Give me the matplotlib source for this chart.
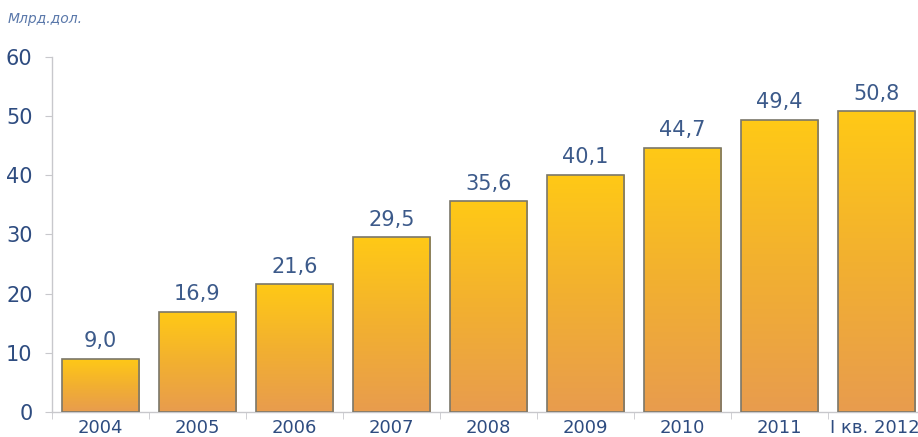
import matplotlib
matplotlib.use("Agg")
import matplotlib.pyplot as plt
import numpy as np
from matplotlib.colors import LinearSegmentedColormap

categories = ["2004", "2005", "2006", "2007", "2008", "2009", "2010", "2011", "I кв. 2012"]
values = [9.0, 16.9, 21.6, 29.5, 35.6, 40.1, 44.7, 49.4, 50.8]
value_labels = ["9,0", "16,9", "21,6", "29,5", "35,6", "40,1", "44,7", "49,4", "50,8"]
yticks = [0, 10, 20, 30, 40, 50, 60]
unit_label = "Млрд.дол."

plt.rcParams['font.family'] = ['DejaVu Sans']

fig = plt.figure(figsize=(9.18, 4.37), dpi=100)
ax = fig.add_axes([52/918, 25/437, 873/918, 355/437])

cmap = LinearSegmentedColormap.from_list("g", ["#E89C4E", "#F2B030", "#FFC916"])
x = np.arange(len(categories))
width = 0.8
grad = np.linspace(0, 1, 256).reshape(-1, 1)
for xi, v in zip(x, values):
    bars = ax.bar(xi, v, width=width, color="none", edgecolor="#7A776A", linewidth=1.2, zorder=3)
    im = ax.imshow(grad, extent=(xi - width/2, xi + width/2, 0, v), origin="lower",
                   cmap=cmap, aspect="auto", zorder=2)
    im.set_clip_path(bars.patches[0])

for xi, v, lab in zip(x, values, value_labels):
    ax.text(xi, v + 1.3, lab, ha="center", va="bottom", fontsize=15, color="#3C5A8A")

ax.set_xlim(-0.5, len(categories) - 0.5)
ax.set_ylim(0, 60)
ax.set_yticks(yticks)
ax.set_yticklabels([str(t) for t in yticks])
ax.set_xticks(x[:-1])
ax.set_xticklabels(categories[:-1])
ax.set_xticks(np.arange(len(categories) + 1) - 0.5, minor=True)

# last (long) category label, kept inside the figure
ax.annotate(categories[-1], xy=(x[-1], 0), xycoords=("data", "axes fraction"),
            xytext=(31, -5), textcoords="offset points", ha="right", va="top",
            fontsize=13, color="#2E4C80")

for s in ["top", "right"]:
    ax.spines[s].set_visible(False)
for s in ["left", "bottom"]:
    ax.spines[s].set_color("#C8C8CC")
    ax.spines[s].set_linewidth(1.0)

ax.tick_params(axis="y", colors="#C8C8CC", labelcolor="#2E4C80", labelsize=15, length=5, pad=9)
ax.tick_params(axis="x", which="major", length=0, labelcolor="#2E4C80", labelsize=13, pad=5)
ax.tick_params(axis="x", which="minor", length=5, color="#C8C8CC")

fig.text(8/918, 1 - 19/437, unit_label, fontsize=10, style="italic", color="#5A78AA", va="center", ha="left")

fig.savefig("out.png", dpi=100)
